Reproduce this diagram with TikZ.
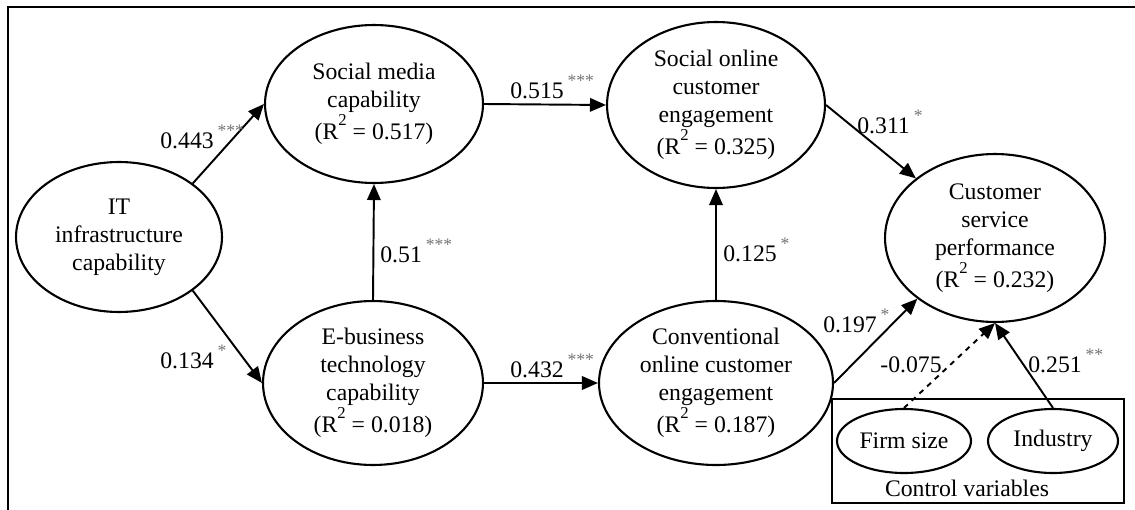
\documentclass[tikz,border=0pt]{standalone}
\usepackage{fontspec}
\setmainfont{Liberation Serif}
\usetikzlibrary{shapes.geometric,arrows.meta}
\newcommand{\sig}[1]{\,\raisebox{0.5em}{\fontsize{10}{10}\selectfont\color{black!55}#1}}
\newcommand{\rsq}[1]{(R\raisebox{0.6em}{\fontsize{9.5}{9.5}\selectfont 2} = #1)}
\begin{document}
\begin{tikzpicture}[x=0.02cm,y=-0.02cm,font=\fontsize{13.5}{15.9}\selectfont,
	latent/.style={ellipse,draw,line width=1.2pt,inner sep=0pt,align=center},
	path/.style={-{Triangle[length=0.32cm,width=0.27cm]},line width=1.1pt},
	coef/.style={anchor=base west,inner sep=0pt}]
	\useasboundingbox (0,0) rectangle (1135,510);
	%=========== outer frame ===========================
	\coordinate (tl) at (8,7);
	\coordinate (tr) at (1135,7);
	\coordinate (bl) at (8,510);
	\draw[line width=1.4pt] (tr) -- (tl) -- (bl);
	%=========== constructs, from left to right ===========================
	\node[latent,minimum width=4.12cm,minimum height=3.00cm] (it) at (119,237) {IT\\infrastructure\\capability};
	\node[latent,minimum width=4.36cm,minimum height=3.16cm] (smc) at (374,104) {Social media\\capability\\\rsq{0.517}};
	\node[latent,minimum width=4.40cm,minimum height=3.28cm] (ebc) at (373,383) {E-business\\technology\\capability\\\rsq{0.018}};
	\node[latent,minimum width=4.36cm,minimum height=3.32cm] (soce) at (716,105) {Social online\\customer\\engagement\\\rsq{0.325}};
	\node[latent,minimum width=4.68cm,minimum height=3.28cm] (coce) at (716,383) {Conventional\\online customer\\engagement\\\rsq{0.187}};
	\node[latent,minimum width=4.40cm,minimum height=3.36cm] (csp) at (995,238) {Customer\\service\\performance\\\rsq{0.232}};
	%=========== control variables ===========================
	\node[draw,line width=1.1pt,minimum width=5.84cm,minimum height=2.08cm] (ctrl) at (978,451) {};
	\node[latent,minimum width=2.68cm,minimum height=1.28cm] (firm) at (904,441) {Firm size};
	\node[latent,minimum width=2.60cm,minimum height=1.28cm] (ind) at (1053,441) {Industry};
	\node (ctrltxt) at (967,488) {Control variables};
	%=========== paths ===========================
	\draw[path] (it.36) -- (smc.west);
	\draw[path] (it.-36) -- (ebc.west);
	\draw[path] (smc.east) -- (soce.west);
	\draw[path] (ebc.north) -- (smc.south);
	\draw[path] (ebc.east) -- (coce.west);
	\draw[path] (coce.north) -- (soce.south);
	\draw[path] (soce.east) -- (csp.143);
	\draw[path] (coce.east) -- (csp.218);
	\draw[path,dashed] (firm.north) -- (csp.south);
	\draw[path] (ind.north) -- (csp.south);
	%=========== coefficients ===========================
	\node[coef] (b1) at (160,148) {0.443\sig{***}};
	\node[coef] (b2) at (160,368) {0.134\sig{*}};
	\node[coef] (b3) at (510,98) {0.515\sig{***}};
	\node[coef] (b4) at (380,262) {0.51\sig{***}};
	\node[coef] (b5) at (510,377) {0.432\sig{***}};
	\node[coef] (b6) at (723,261) {0.125\sig{*}};
	\node[coef] (b7) at (857,133) {0.311\sig{*}};
	\node[coef] (b8) at (823,332) {0.197\sig{*}};
	\node[coef] (b9) at (880,372) {-0.075};
	\node[coef] (b10) at (1028,372) {0.251\sig{**}};
\end{tikzpicture}
\end{document}
